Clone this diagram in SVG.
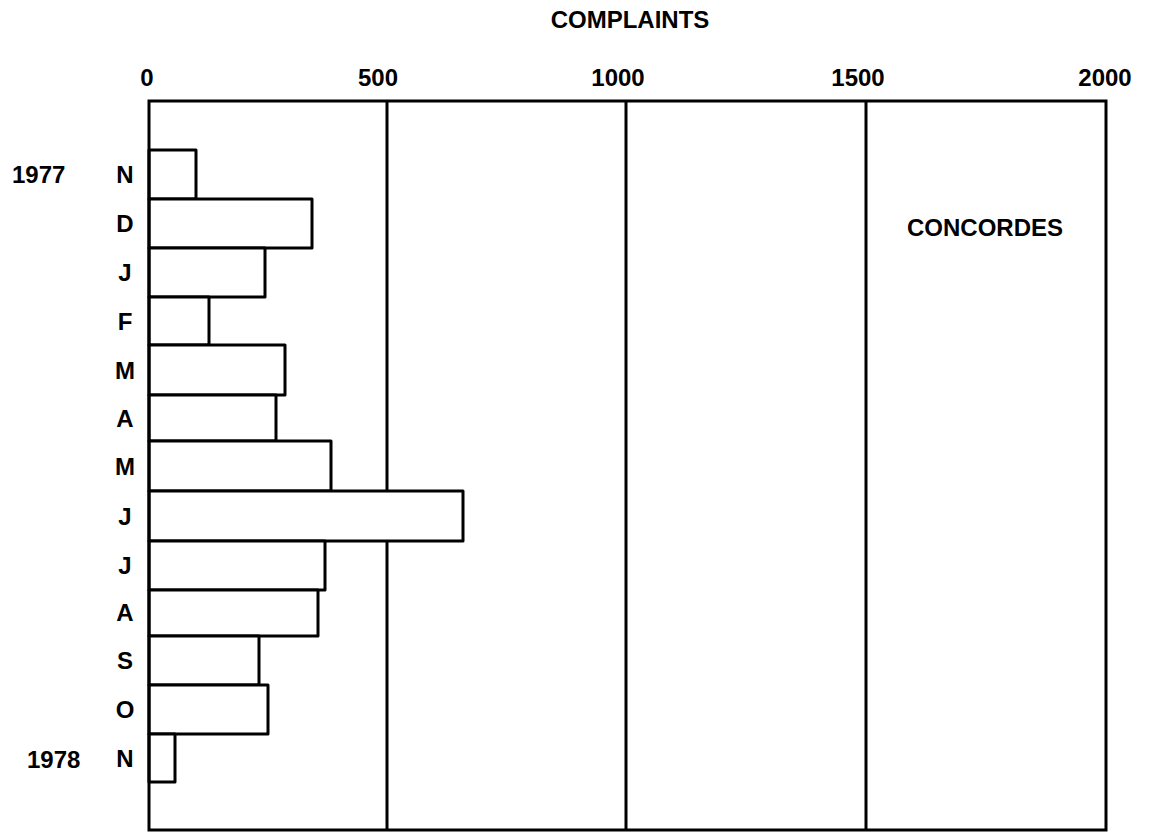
<svg xmlns="http://www.w3.org/2000/svg" width="1149" height="840" viewBox="0 0 1149 840">
<style>
text{font-family:"Liberation Sans",Arial,sans-serif;font-weight:bold;font-size:24px;fill:#000}
.m{text-anchor:middle}
.ln{stroke:#000;stroke-width:3;fill:none}
.bar{stroke:#000;stroke-width:3;fill:#fff;stroke-linejoin:round}
</style>
<rect width="1149" height="840" fill="#fff"/>
<text id="title" x="630" y="28" class="m">COMPLAINTS</text>
<g id="axis-labels">
<text x="147" y="86" class="m">0</text>
<text x="378" y="86" class="m">500</text>
<text x="618" y="86" class="m">1000</text>
<text x="858" y="86" class="m">1500</text>
<text x="1105" y="86" class="m">2000</text>
</g>
<g id="grid">
<line class="ln" x1="387" y1="101" x2="387" y2="830"/>
<line class="ln" x1="626" y1="101" x2="626" y2="830"/>
<line class="ln" x1="866" y1="101" x2="866" y2="830"/>
</g>
<g id="bars">
<rect class="bar" x="149" y="150" width="47" height="49"/>
<rect class="bar" x="149" y="199" width="163" height="49"/>
<rect class="bar" x="149" y="248" width="116" height="49"/>
<rect class="bar" x="149" y="297" width="60" height="48"/>
<rect class="bar" x="149" y="345" width="136" height="50"/>
<rect class="bar" x="149" y="395" width="127" height="46"/>
<rect class="bar" x="149" y="441" width="182" height="50"/>
<rect class="bar" x="149" y="491" width="314" height="50"/>
<rect class="bar" x="149" y="541" width="176" height="49"/>
<rect class="bar" x="149" y="590" width="169" height="46"/>
<rect class="bar" x="149" y="636" width="110" height="49"/>
<rect class="bar" x="149" y="685" width="119" height="49"/>
<rect class="bar" x="149" y="734" width="26" height="48"/>
</g>
<rect id="frame" class="ln" x="149" y="101" width="957" height="729"/>
<g id="month-labels">
<text x="125" y="183" class="m">N</text>
<text x="125" y="232" class="m">D</text>
<text x="125" y="281" class="m">J</text>
<text x="125" y="330" class="m">F</text>
<text x="125" y="379" class="m">M</text>
<text x="125" y="427" class="m">A</text>
<text x="125" y="475" class="m">M</text>
<text x="125" y="525" class="m">J</text>
<text x="125" y="574" class="m">J</text>
<text x="125" y="621" class="m">A</text>
<text x="125" y="669" class="m">S</text>
<text x="125" y="718" class="m">O</text>
<text x="125" y="767" class="m">N</text>
</g>
<g id="years">
<text x="12" y="183">1977</text>
<text x="27" y="768">1978</text>
</g>
<text id="concordes" x="985" y="236" class="m">CONCORDES</text>
</svg>
